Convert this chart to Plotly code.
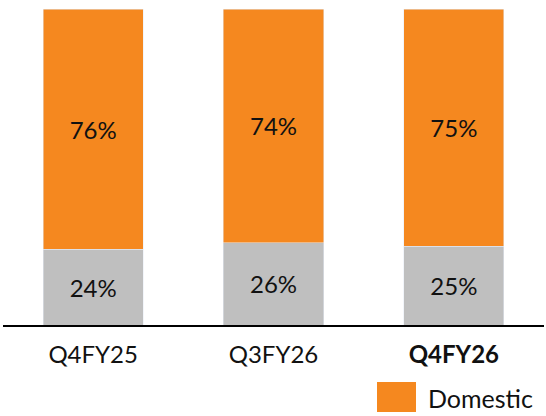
import plotly.graph_objects as go

categories = ["Q4FY25", "Q3FY26", "Q4FY26"]
tick_labels = ["Q4FY25", "Q3FY26", "<b>Q4FY26</b>"]
exports = [24, 26, 25]
domestic = [76, 74, 75]

ORANGE = "#F5881F"
GRAY = "#BFBFBF"
FONT = "Lato"

fig = go.Figure()
fig.add_trace(go.Bar(
    x=categories, y=exports, name="Exports", marker_color=GRAY,
    text=[f"{v}%" for v in exports], textposition="inside",
    insidetextanchor="middle", textfont=dict(family=FONT, size=24, color="#111111"),
    showlegend=False, width=0.555,
))
fig.add_trace(go.Bar(
    x=categories, y=domestic, name="Domestic", marker_color=ORANGE,
    text=[f"{v}%" for v in domestic], textposition="inside",
    insidetextanchor="middle", textfont=dict(family=FONT, size=24, color="#111111"),
    showlegend=False, width=0.555,
))

W, H = 546, 416
L, R, T, B = 3, 2, 9, 91
pw, ph = W - L - R, H - T - B

def px(x):
    return (x - L) / pw

def py(y):
    return (H - B - y) / ph

fig.add_shape(type="rect", xref="paper", yref="paper",
              x0=px(377), x1=px(416), y0=py(412), y1=py(382),
              fillcolor=ORANGE, line_width=0)
fig.add_annotation(text="Domestic", xref="paper", yref="paper",
                   x=px(426), y=py(398.5), xanchor="left", yanchor="middle",
                   showarrow=False, font=dict(family=FONT, size=25, color="#111111"))

fig.update_layout(
    width=W, height=H, barmode="stack",
    margin=dict(l=L, r=R, t=T, b=B),
    plot_bgcolor="white", paper_bgcolor="white",
    font=dict(family=FONT, size=24, color="#111111"),
    uniformtext=dict(mode=False),
)
fig.update_xaxes(tickmode="array", tickvals=categories, ticktext=tick_labels,
                 showline=True, linecolor="black", linewidth=2,
                 ticks="", showgrid=False, ticklabelstandoff=7,
                 tickfont=dict(family=FONT, size=24, color="#111111"))
fig.update_yaxes(range=[0, 100], visible=False, showgrid=False)

fig.write_html("out.html", config={"displayModeBar": False},
               post_script="document.body.style.margin='0';document.body.style.overflow='hidden';")
